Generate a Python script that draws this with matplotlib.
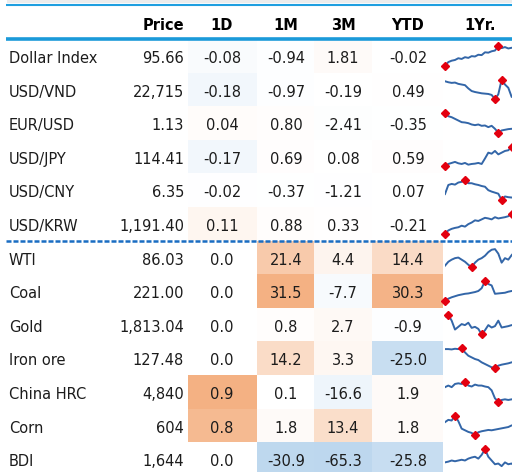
import matplotlib

matplotlib.use("Agg")
import matplotlib.pyplot as plt
import numpy as np
from matplotlib import font_manager as fm
from matplotlib.colors import LinearSegmentedColormap
from matplotlib.patches import Rectangle

# ---- table data -------------------------------------------------------------
NAMES = ["Dollar Index", "USD/VND", "EUR/USD", "USD/JPY", "USD/CNY", "USD/KRW",
         "WTI", "Coal", "Gold", "Iron ore", "China HRC", "Corn", "BDI"]
PRICE = [95.66, 22715, 1.13, 114.41, 6.35, 1191.40,
         86.03, 221.00, 1813.04, 127.48, 4840, 604, 1644]
PRICE_DEC = [2, 0, 2, 2, 2, 2, 2, 2, 2, 2, 0, 0, 0]
CHG_1D = [-0.08, -0.18, 0.04, -0.17, -0.02, 0.11, 0.0, 0.0, 0.0, 0.0, 0.9, 0.8, 0.0]
CHG_1M = [-0.94, -0.97, 0.80, 0.69, -0.37, 0.88, 21.4, 31.5, 0.8, 14.2, 0.1, 1.8, -30.9]
CHG_3M = [1.81, -0.19, -2.41, 0.08, -1.21, 0.33, 4.4, -7.7, 2.7, 3.3, -16.6, 13.4, -65.3]
CHG_YTD = [-0.02, 0.49, -0.35, 0.59, 0.07, -0.21, 14.4, 30.3, -0.9, -25.0, 1.9, 1.8, -25.8]
HEADERS = ["Price", "1D", "1M", "3M", "YTD", "1Yr."]
N_FX = 6  # first block: currencies (2 decimals), then commodities (1 decimal)

# ---- 1Yr sparklines (relative levels) ---------------------------------------
SPARK_DXY = [17, 27, 31, 33, 38, 36, 41, 39, 44, 43, 48, 47, 55, 54, 58, 60, 73, 67, 70, 66, 68, 67, 69]
SPARK_VND = [70, 67, 65, 66, 62, 60, 58, 48, 40, 37, 35, 33, 32, 31, 28, 15, 30, 75, 60, 50, 22, 20, 19]
SPARK_EUR = [72, 63, 60, 55, 50, 45, 44, 42, 38, 36, 38, 34, 35, 30, 34, 25, 13, 20, 22, 24, 25, 24, 26]
SPARK_JPY = [15, 22, 25, 28, 24, 22, 25, 20, 22, 23, 25, 22, 38, 55, 52, 60, 50, 55, 60, 62, 72, 66, 64]
SPARK_CNY = [29, 55, 58, 56, 62, 64, 68, 60, 60, 57, 55, 52, 50, 40, 36, 33, 30, 12, 22, 20, 19, 20, 21]
SPARK_KRW = [10, 20, 25, 28, 30, 35, 32, 40, 45, 52, 50, 55, 60, 58, 55, 62, 58, 60, 62, 65, 72, 68, 66]
SPARK_WTI = [25, 38, 45, 50, 52, 45, 38, 28, 20, 35, 45, 50, 58, 70, 78, 80, 65, 35, 50, 45, 60, 72, 85]
SPARK_COAL = [22, 28, 32, 35, 38, 40, 42, 43, 45, 47, 50, 58, 78, 70, 66, 42, 43, 44, 45, 48, 50, 49, 51]
SPARK_GOLD = [70, 75, 58, 32, 40, 48, 45, 52, 37, 40, 34, 18, 30, 45, 38, 42, 58, 38, 40, 42, 45, 44, 46]
SPARK_IRON = [75, 75, 74, 76, 75, 77, 65, 55, 50, 45, 42, 35, 30, 25, 20, 18, 25, 28, 30, 32, 35, 36, 37]
SPARK_HRC = [60, 65, 60, 70, 72, 70, 76, 65, 62, 68, 65, 65, 62, 60, 50, 25, 15, 20, 22, 20, 22, 21, 23]
SPARK_CORN = [55, 62, 60, 75, 58, 35, 30, 25, 22, 15, 24, 27, 29, 31, 30, 32, 34, 36, 38, 40, 45, 44, 46]
SPARK_BDI = [35, 37, 40, 38, 40, 42, 40, 45, 48, 50, 45, 55, 70, 50, 40, 30, 32, 25, 35, 30, 32, 24, 18]
SPARKS = [SPARK_DXY, SPARK_VND, SPARK_EUR, SPARK_JPY, SPARK_CNY, SPARK_KRW,
          SPARK_WTI, SPARK_COAL, SPARK_GOLD, SPARK_IRON, SPARK_HRC, SPARK_CORN, SPARK_BDI]

# ---- look -------------------------------------------------------------------
W, H = 512, 472
ROW0, ROW_H = 39.0, 33.6
CELLS = [(188, 257), (257, 314), (314, 372), (372, 443)]
HEAD_X = [184, 222, 286, 343, 408, 480]
SPARK_X0, SPARK_W = 445, 73.3

names = {f.name for f in fm.fontManager.ttflist}
if "Liberation Sans Narrow" in names:
    FONT, FS = "Liberation Sans Narrow", 13.8
else:
    FONT, FS = "DejaVu Sans", 10.5
plt.rcParams["font.family"] = FONT

cmap = LinearSegmentedColormap.from_list("heat", ["#BDD7EE", "#FFFFFF", "#F4B183"])
TXT = "#1c1c1c"


def main() -> None:
    fig = plt.figure(figsize=(W / 100, H / 100), dpi=100)
    ax = fig.add_axes([0, 0, 1, 1])
    ax.set_xlim(0, W)
    ax.set_ylim(H, 0)
    ax.axis("off")

    cols = [CHG_1D, CHG_1M, CHG_3M, CHG_YTD]
    # gains: 1D on its own scale, longer horizons share one scale
    long_up = max(max(c) for c in cols[1:])
    up_scale = [max(CHG_1D), long_up, long_up, long_up]
    # losses: each column against its largest absolute move
    down_scale = [max(abs(v) for v in c) for c in cols]

    # header
    ax.text(HEAD_X[0], 30, HEADERS[0], ha="right", va="baseline",
            fontsize=FS, fontweight="bold", color="black")
    for hx, h in zip(HEAD_X[1:], HEADERS[1:]):
        ax.text(hx, 30, h, ha="center", va="baseline",
                fontsize=FS, fontweight="bold", color="black")

    for i, name in enumerate(NAMES):
        top = ROW0 + i * ROW_H
        base = top + ROW_H / 2 + 7.2
        dec = 2 if i < N_FX else 1
        ax.text(9, base, name, ha="left", va="baseline", fontsize=FS, color=TXT)
        ax.text(HEAD_X[0], base, f"{PRICE[i]:,.{PRICE_DEC[i]}f}", ha="right",
                va="baseline", fontsize=FS, color=TXT)
        for j, col in enumerate(cols):
            v = col[i]
            t = v / up_scale[j] if v >= 0 else v / down_scale[j]
            t = np.clip(t, -1, 1)
            x0, x1 = CELLS[j]
            ax.add_patch(Rectangle((x0, top), x1 - x0, ROW_H,
                                   facecolor=cmap(0.5 + 0.5 * t), edgecolor="none"))
            ax.text(HEAD_X[j + 1], base, f"{v:.{dec}f}", ha="center",
                    va="baseline", fontsize=FS, color=TXT)

        # sparkline
        s = np.asarray(SPARKS[i], dtype=float)
        sax = fig.add_axes([SPARK_X0 / W, 1 - (top + ROW_H) / H,
                            SPARK_W / W, ROW_H / H])
        x = np.arange(len(s))
        sax.plot(x, s, color="#3366a8", lw=1.4)
        k = [int(np.argmin(s)), int(np.argmax(s))]
        sax.plot(x[k], s[k], "D", color="#e3000f", ms=3.6, clip_on=False)
        r = s.max() - s.min()
        sax.set_ylim(s.min() - 0.36 * r, s.max() + 0.36 * r)
        sax.set_xlim(0, len(s) - 1)
        sax.axis("off")

    # rules
    ax.add_patch(Rectangle((7, 0), W - 7, 3.3, facecolor="#ececec", edgecolor="none"))
    ax.plot([6, W], [5, 5], color="#1f9fe0", lw=1.5, solid_capstyle="butt")
    ax.plot([6, W], [39.2, 39.2], color="#1b9ad9", lw=2.6, solid_capstyle="butt", zorder=5)
    ax.plot([6, W], [240.6, 240.6], color="#1a6dc2", lw=1.8,
            linestyle=(0, (2.0, 0.8)), dash_capstyle="butt", zorder=5)

    fig.savefig("out.png", dpi=100)
    plt.close(fig)


if __name__ == "__main__":
    main()
